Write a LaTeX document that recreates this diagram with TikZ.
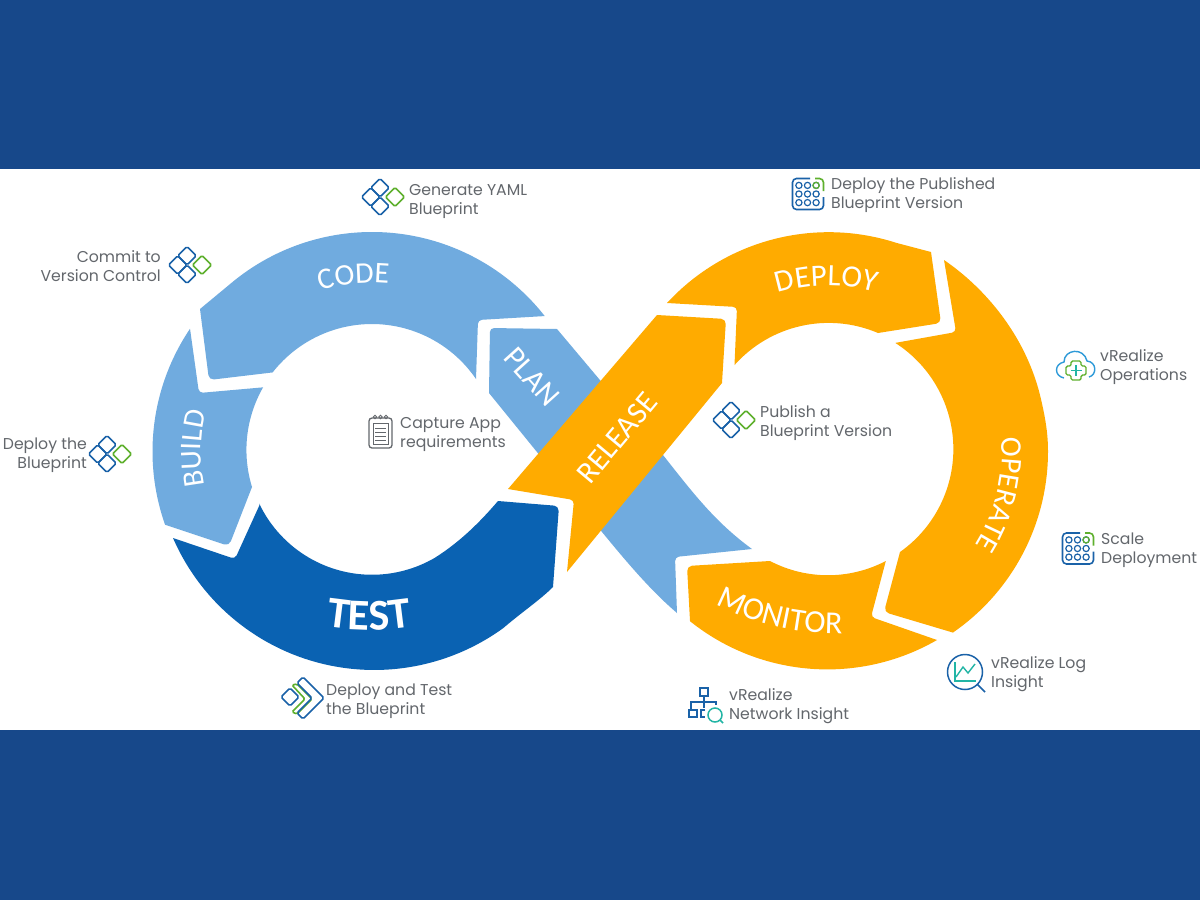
\documentclass[tikz,border=0pt]{standalone}
\usepackage{fontspec}
\setmainfont{Poppins}
\newfontfamily\ribbonfont{Carlito}
\usetikzlibrary{calc,decorations.text}
\definecolor{bandnavy}{HTML}{17488A}
\definecolor{skyblue}{HTML}{70ABDF}
\definecolor{deepblue}{HTML}{0A62B2}
\definecolor{amber}{HTML}{FFAB00}
\definecolor{notegray}{HTML}{63676C}
\definecolor{iconblue}{HTML}{1A62A8}
\definecolor{icongreen}{HTML}{5FB02E}
\definecolor{iconteal}{HTML}{22B5A5}
\definecolor{cloudblue}{HTML}{2E9AD8}
\tikzset{
  notetext/.style={text=notegray,font=\fontsize{15.7}{19}\selectfont,inner sep=0pt},
  noteL/.style={notetext,align=left,anchor=west},
  noteR/.style={notetext,align=right,anchor=east},
  ribbontext/.style={text=white,font=\ribbonfont\fontsize{31}{31}\selectfont,inner sep=0pt},
  bluestroke/.style={draw=iconblue,line width=1.6pt},
  greenstroke/.style={draw=icongreen,line width=1.6pt},
  diamondicon/.pic={
    \foreach \dx/\dy in {0/9.2,-9.2/0,0/-9.2}
      \draw[bluestroke,rounded corners=1.5pt,shift={(\dx,\dy)}]
        (-9.2,0) -- (0,9.2) -- (9.2,0) -- (0,-9.2) -- cycle;
    \draw[greenstroke,rounded corners=1.5pt,shift={(15,0)}]
      (-9.6,0) -- (0,9.6) -- (9.6,0) -- (0,-9.6) -- cycle;
  },
  gridicon/.pic={
    \draw[bluestroke,rounded corners=4pt] (2,15.5) -- (-15.5,15.5) -- (-15.5,-15.5) -- (15.5,-15.5) -- (15.5,-3);
    \draw[greenstroke,rounded corners=4pt] (7,15.5) -- (15.5,15.5) -- (15.5,3);
    \foreach \ix in {-1,0,1} \foreach \iy in {-1,0,1}
      \draw[iconblue,line width=1.2pt] (\ix*8.6-0.5,\iy*8.6) circle[radius=3.1];
    \draw[icongreen,line width=1.2pt] (8.1,8.6) circle[radius=3.1];
  },
  wordpath/.style={decorate,decoration={text along path,text align=center,text color=white,text={#1}}}
}
\begin{document}
\begin{tikzpicture}[x=1pt,y=1pt]
\useasboundingbox (0,0) rectangle (1200,-900);
\fill[white] (0,0) rectangle (1200,-900);
\fill[bandnavy] (0,0) rectangle (1200,-169);
\fill[bandnavy] (0,-730) rectangle (1200,-900);

% ring centres: outer and inner circles of both loops
\coordinate (LO) at (372,-451.5);
\coordinate (LI) at (372,-450);
\coordinate (RO) at (828,-451.5);
\coordinate (RI) at (828,-450);

% PLAN ribbon, running under RELEASE
\fill[skyblue] (489,-393) [rounded corners=4pt] -- (490,-328) [sharp corners] -- (557,-329)
  -- (663,-455) .. controls (693,-493) and (715,-522) .. (752,-549)
  [rounded corners=4pt] -- (675,-557) [sharp corners] -- (677,-613)
  .. controls (650,-590) and (625,-560) .. (602,-532) -- cycle;

% CODE
\fill[skyblue] (200,-309) -- ($(LO)+(130:219.5)$) arc[start angle=130,end angle=38.1,radius=219.5]
  [rounded corners=4pt] -- (478,-320) [sharp corners] -- (476,-379)
  arc[start angle=34.3,end angle=142,radius=126]
  [rounded corners=5pt] -- (209,-380) [sharp corners] -- cycle;

% BUILD
\fill[skyblue] ($(LO)+(146:219.5)$) arc[start angle=146,end angle=199.5,radius=219.5]
  [rounded corners=5pt] -- (229,-546) [sharp corners] -- (252,-487)
  arc[start angle=197.1,end angle=150.2,radius=126]
  [rounded corners=4pt] -- (199,-393) [sharp corners] -- cycle;

% TEST
\fill[deepblue] (173,-538) arc[start angle=203.5,end angle=306,radius=219.5]
  .. controls (522,-612) and (540,-600) .. (553,-587)
  [rounded corners=5pt] -- (559,-506) [sharp corners] -- (498,-501)
  .. controls (480,-522) and (460,-542) .. (434.5,-558)
  arc[start angle=300,end angle=205.7,radius=125] -- (260,-504)
  [rounded corners=4pt] -- (235,-559) [sharp corners] -- cycle;

% RELEASE
\fill[amber] (508,-489) -- (657,-315) [rounded corners=5pt] -- (726,-319) [sharp corners]
  -- (722,-383) -- (567,-572) [rounded corners=4pt] -- (574,-500) [sharp corners] -- cycle;

% DEPLOY
\fill[amber] (667,-303) arc[start angle=137.3,end angle=72,radius=220] -- (931,-252)
  [rounded corners=5pt] -- (941,-323) [sharp corners] -- (878,-333)
  arc[start angle=66.9,end angle=138.3,radius=126]
  [rounded corners=4pt] -- (737,-307) [sharp corners] -- cycle;

% OPERATE: the upper shoulder swells a little beyond the circle
\fill[amber] (944,-260) .. controls (985,-288) and (1025,-335) .. (1040,-395)
  .. controls (1046,-420) and (1048,-435) .. (1048,-451.5)
  arc[start angle=0,end angle=-55.4,radius=220]
  [rounded corners=5pt] -- (884,-612) [sharp corners] -- (900,-552)
  arc[start angle=-54.8,end angle=57.4,radius=126]
  [rounded corners=4pt] -- (956,-332) [sharp corners] -- cycle;

% MONITOR
\fill[amber] (937,-640) arc[start angle=-60,end angle=-128.7,radius=219.5]
  [rounded corners=5pt] -- (687,-566) [sharp corners] -- (770,-561)
  arc[start angle=242.4,end angle=297.6,radius=125]
  [rounded corners=4pt] -- (871,-617) [sharp corners] -- cycle;

% ribbon captions following the loops
\path[wordpath={|\ribbonfont\fontsize{30}{30}\selectfont|CODE}]
  ($(LO)+(130:169)$) arc[start angle=130,end angle=62,radius=169];
\path[wordpath={|\ribbonfont\fontsize{31}{31}\selectfont|DEPLOY}]
  ($(RO)+(124:166)$) arc[start angle=124,end angle=57,radius=166];
\path[wordpath={|\ribbonfont\fontsize{30}{30}\selectfont|BUILD}]
  ($(LO)+(215:171)$) arc[start angle=215,end angle=143,radius=171];
\path[wordpath={|\ribbonfont\bfseries\fontsize{44}{44}\selectfont|TEST}]
  ($(369,-370)+(250:260)$) arc[start angle=250,end angle=290,radius=260];
\path[wordpath={|\ribbonfont\fontsize{30}{30}\selectfont|OPERATE}]
  ($(RO)+(33:174)$) arc[start angle=33,end angle=-61,radius=174];
\path[wordpath={|\ribbonfont\fontsize{32}{32}\selectfont|MONITOR}]
  (700,-595) .. controls (750,-625) and (800,-636) .. (860,-633);
\node[ribbontext,rotate=-48] (planlabel) at (532,-377) {PLAN};
\node[ribbontext,rotate=50] (releaselabel) at (617,-438) {RELEASE};

% captions with their icons
\pic at (380,-197) {diamondicon};
\node[noteL] (yaml) at (409,-202) {Generate YAML\\Blueprint};
\pic at (187,-265) {diamondicon};
\node[noteR] (commit) at (161,-266) {Commit to\\Version Control};
\pic at (107,-454) {diamondicon};
\node[noteR] (deployblue) at (87,-455) {Deploy the\\Blueprint};
\pic at (731,-420) {diamondicon};
\node[noteL] (publish) at (760,-423) {Publish a\\Blueprint Version};

\pic at (808,-194) {gridicon};
\node[noteL] (published) at (831,-195) {Deploy the Published\\Blueprint Version};
\pic at (1078,-548.5) {gridicon};
\node[noteL] (scale) at (1101,-550) {Scale\\Deployment};

% clipboard
\draw[notegray,line width=1.3pt,rounded corners=3pt] (369,-418) rectangle (392,-448);
\draw[notegray,line width=1pt] (373,-423) rectangle (388,-444);
\foreach \ly in {-428,-432,-436,-440} \draw[notegray,line width=1pt] (375,\ly) -- (386,\ly);
\foreach \cx in {375,380.5,386} \draw[notegray,line width=.9pt] (\cx,-417) circle[radius=1.7];
\node[noteL] (capture) at (400,-434) {Capture App\\requirements};

% cloud with medical cross
\draw[cloudblue,line width=1.4pt] (1064,-378) .. controls (1054,-376) and (1054,-364) .. (1064,-362)
  .. controls (1064,-349) and (1084,-347) .. (1087,-361) .. controls (1097,-362) and (1097,-375) .. (1089,-377);
\draw[icongreen,line width=1.4pt,rounded corners=1.5pt]
  (1071,-361) -- (1081,-361) -- (1081,-366) -- (1086,-366) -- (1086,-375) -- (1081,-375) -- (1081,-380)
  -- (1071,-380) -- (1071,-375) -- (1066,-375) -- (1066,-366) -- (1071,-366) -- cycle;
\draw[iconteal,line width=1.4pt] (1076,-365) -- (1076,-376) (1070.5,-370.5) -- (1081.5,-370.5);
\node[noteL] (operations) at (1100,-367) {vRealize\\Operations};

% log magnifier
\draw[iconblue,line width=1.5pt] (965,-672) circle[radius=17.5];
\draw[iconblue,line width=1.7pt] (977.5,-684.5) -- (985,-692);
\draw[iconteal,line width=1.4pt] (955,-662) -- (955,-681) -- (976,-681);
\draw[iconteal,line width=1.4pt] (956,-677) -- (963,-667) -- (968,-673) -- (975,-664);
\node[noteL] (loginsight) at (991,-674) {vRealize Log\\Insight};

% network map with magnifier
\draw[iconblue,line width=1.4pt] (700,-688) rectangle (708,-696);
\draw[iconblue,line width=1.4pt] (704,-696) -- (704,-702) (691,-710) -- (691,-702) -- (716,-702) -- (716,-705)
  (704,-702) -- (704,-708);
\draw[iconblue,line width=1.4pt] (689,-710) rectangle (697,-717);
\draw[iconblue,line width=1.4pt] (705,-710) -- (701,-710) -- (701,-717) -- (705,-717);
\draw[iconteal,line width=1.5pt] (715,-715) circle[radius=7] (720,-720) -- (723,-723);
\node[noteL] (network) at (729,-706) {vRealize\\Network Insight};

% chevrons and small diamond
\draw[bluestroke,rounded corners=1.5pt] (281,-697) -- (290,-688) -- (299,-697) -- (290,-706) -- cycle;
\draw[greenstroke,rounded corners=1.5pt] (292,-685) -- (297,-684) -- (312,-699) -- (297,-714) -- (292,-712) -- (305,-699) -- cycle;
\draw[bluestroke,rounded corners=1.5pt] (303,-677) -- (324,-698) -- (303,-719) -- (297,-713) -- (312,-698) -- (297,-683) -- cycle;
\node[noteL] (deploytest) at (326,-701) {Deploy and Test\\the Blueprint};
\end{tikzpicture}
\end{document}
